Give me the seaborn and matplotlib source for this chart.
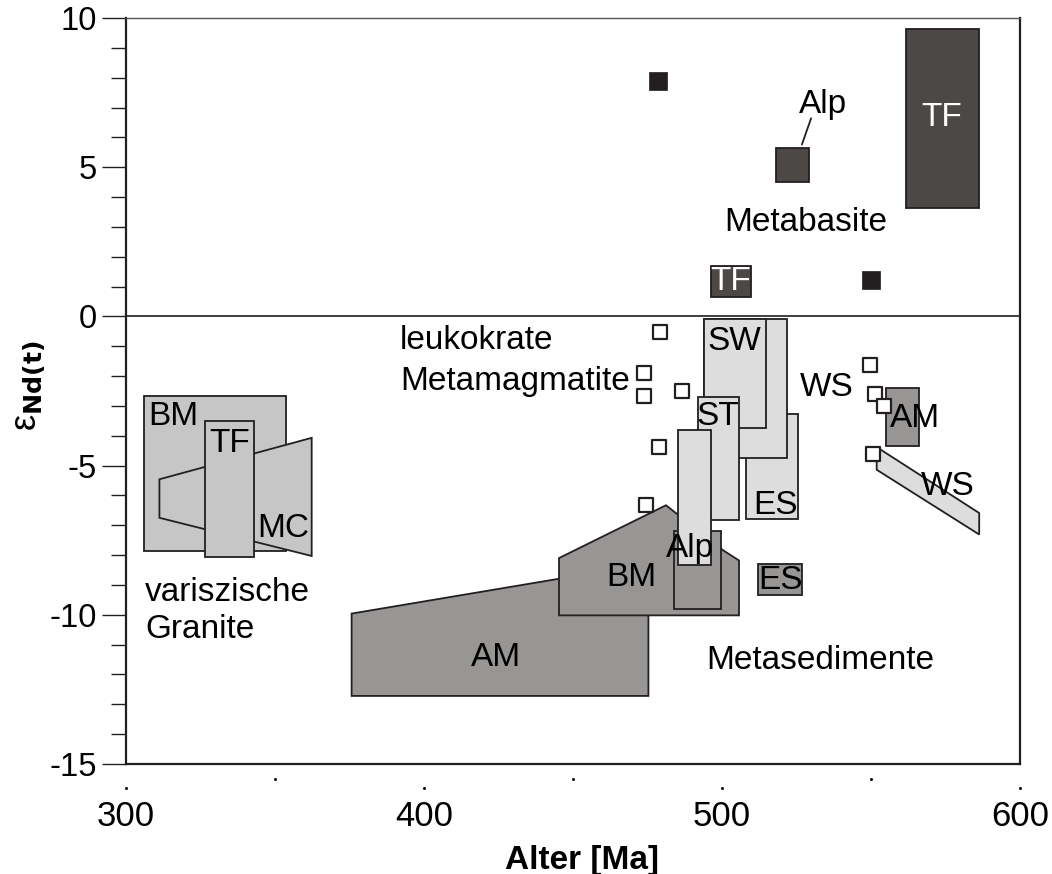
import numpy as np
import pandas as pd
import matplotlib
matplotlib.use("Agg")
import matplotlib.pyplot as plt
import matplotlib.transforms as mtrans
from matplotlib.patches import Polygon, Rectangle
from matplotlib.ticker import MultipleLocator
from matplotlib import font_manager
import seaborn as sns

# ---------------- data ----------------
# variscan granites (light-medium grey)
granite_bm = [306.0, 353.7, -7.87, -2.67]          # x0, x1, y0, y1
granite_mc = [(311.2, -5.46), (362.3, -4.07), (362.3, -8.03), (311.2, -6.75)]
granite_tf = [326.5, 343.0, -8.07, -3.51]

# metasediments (medium grey)
sed_am = [(375.7, -9.96), (475.3, -8.29), (475.3, -12.72), (375.7, -12.72)]
sed_bm = [(445.3, -8.10), (481.2, -6.33), (500.4, -7.84), (505.7, -8.18),
          (505.7, -10.02), (445.3, -10.02)]
sed_alp = [483.9, 499.8, -9.82, -7.20]
sed_es = [512.2, 526.9, -9.35, -8.29]
sed_am2 = [554.9, 566.2, -4.35, -2.39]

# leucocratic metamagmatites (light grey)
leu_es = [508.0, 525.4, -6.80, -3.26]
leu_ws = [494.1, 521.9, -4.76, -0.10]
leu_sw = [494.1, 514.7, -3.75, -0.10]
leu_st = [492.0, 505.7, -6.84, -2.69]
leu_alp = [485.1, 496.3, -8.32, -3.80]
leu_ws2 = [(551.9, -4.38), (586.3, -6.59), (586.3, -7.31), (551.9, -5.14)]

# metabasites (dark grey)
mb_tf = [561.7, 586.2, 3.62, 9.62]
mb_alp = [518.1, 529.2, 4.49, 5.63]
mb_tf2 = [496.3, 509.7, 0.64, 1.68]

# single points
open_age = [479.3, 473.9, 473.9, 486.5, 478.9, 474.4, 549.8, 551.4, 554.4, 550.8]
open_end = [-0.53, -1.90, -2.68, -2.50, -4.39, -6.33, -1.64, -2.61, -3.02, -4.60]
filled_age = [478.5, 550.0]
filled_end = [7.88, 1.21]

x_ticks = [300, 400, 500, 600]
x_dots_major = [300, 400, 500, 600]
x_dots_minor = [350, 450, 550]
y_ticks = [-15, -10, -5, 0, 5, 10]

# ---------------- style ----------------
sns.set_theme(style="white")
names = {f.name for f in font_manager.fontManager.ttflist}
base_font = "Liberation Sans" if "Liberation Sans" in names else "DejaVu Sans"
plt.rcParams["font.family"] = [base_font, "DejaVu Sans"]
plt.rcParams["axes.unicode_minus"] = False
plt.rcParams["text.color"] = "black"
plt.rcParams["axes.labelcolor"] = "black"
plt.rcParams["xtick.color"] = "black"
plt.rcParams["ytick.color"] = "black"

EDGE = "#231f20"
C_GRAN = "#c6c6c6"
C_SED = "#989694"
C_LEU = "#dddddd"
C_DARK = "#4b4846"
FS = 24

fig = plt.figure(figsize=(10.52, 8.74), dpi=100)
ax = fig.add_axes([0.1198, 0.1259, 0.8498, 0.8535])


def rect(r, fc, lw=1.3, z=2):
    x0, x1, y0, y1 = r
    ax.add_patch(Rectangle((x0, y0), x1 - x0, y1 - y0, facecolor=fc,
                           edgecolor=EDGE, linewidth=lw, zorder=z))


def poly(p, fc, lw=1.3, z=2):
    ax.add_patch(Polygon(p, closed=True, facecolor=fc, edgecolor=EDGE,
                         linewidth=lw, zorder=z))


# zero line
ax.axhline(0, color=EDGE, lw=1.2, zorder=1)

# granites
rect(granite_bm, C_GRAN)
poly(granite_mc, C_GRAN)
rect(granite_tf, C_GRAN)

# metasediments
poly(sed_am, C_SED)
poly(sed_bm, C_SED)
rect(sed_alp, C_SED)

# leucocratic
rect(leu_es, C_LEU)
rect(leu_ws, C_LEU)
rect(leu_sw, C_LEU)
rect(leu_st, C_LEU)
rect(leu_alp, C_LEU)

rect(sed_es, C_SED)
rect(sed_am2, C_SED)
poly(leu_ws2, C_LEU)

# metabasites
rect(mb_tf, C_DARK)
rect(mb_alp, C_DARK)
rect(mb_tf2, C_DARK)

# points
pts_open = pd.DataFrame({"age": open_age, "end": open_end})
pts_fill = pd.DataFrame({"age": filled_age, "end": filled_end})
sns.scatterplot(data=pts_open, x="age", y="end", marker="s", s=110,
                facecolor="white", edgecolor=EDGE, linewidth=1.6, zorder=5, ax=ax)
sns.scatterplot(data=pts_fill, x="age", y="end", marker="s", s=150,
                color=EDGE, edgecolor=EDGE, linewidth=0.5, zorder=5, ax=ax)

# labels
def lab(x, y, s, color="black", ha="center"):
    ax.text(x, y, s, fontsize=FS, color=color, ha=ha, va="center", zorder=6)

lab(315.8, -3.35, "BM")
lab(334.9, -4.26, "TF")
lab(352.7, -7.10, "MC")
lab(306.4, -9.25, "variszische", ha="left")
lab(306.4, -10.49, "Granite", ha="left")
lab(391.9, -0.80, "leukokrate", ha="left")
lab(391.9, -2.18, "Metamagmatite", ha="left")
lab(424.2, -11.43, "AM")
lab(469.5, -8.75, "BM")
lab(489.3, -7.77, "Alp")
lab(519.5, -8.85, "ES")
lab(532.9, -11.53, "Metasedimente")
lab(504.0, -0.84, "SW")
lab(535.2, -2.38, "WS")
lab(498.7, -3.35, "ST")
lab(518.1, -6.33, "ES")
lab(564.8, -3.42, "AM")
lab(575.8, -5.70, "WS")
lab(533.9, 7.10, "Alp")
lab(528.2, 3.15, "Metabasite")
lab(503.0, 1.17, "TF", color="white")
lab(573.8, 6.67, "TF", color="white")
ax.plot([529.9, 526.8], [6.64, 5.76], color=EDGE, lw=1.3, zorder=6)

# axes
ax.set_xlim(300, 600)
ax.set_ylim(-15, 10)
ax.set_xticks(x_ticks)
ax.set_xticklabels([str(v) for v in x_ticks], fontsize=25)
ax.set_yticks(y_ticks)
ax.set_yticklabels([str(v) for v in y_ticks], fontsize=23.5)
ax.yaxis.set_minor_locator(MultipleLocator(1))
ax.tick_params(axis="y", which="major", direction="out", length=17,
               width=1.0, color=EDGE, pad=4, left=True)
ax.tick_params(axis="y", which="minor", direction="out", length=10.5,
               width=1.0, color=EDGE, left=True)
ax.tick_params(axis="x", which="both", length=0, pad=26)

# tiny dots below the x axis (as in the original)
trans = mtrans.blended_transform_factory(ax.transData, ax.transAxes)
ax.plot(x_dots_major, [-0.0322] * len(x_dots_major), ls="none", marker="s",
        ms=1.0, color="black", transform=trans, clip_on=False)
ax.plot(x_dots_minor, [-0.0201] * len(x_dots_minor), ls="none", marker="s",
        ms=1.0, color="black", transform=trans, clip_on=False)

for side in ["left", "bottom", "right"]:
    ax.spines[side].set_color(EDGE)
    ax.spines[side].set_linewidth(1.6)
ax.spines["top"].set_color("#555555")
ax.spines["top"].set_linewidth(1.0)

ax.set_xlabel("Alter [Ma]", fontsize=FS, fontweight="bold")
ax.xaxis.set_label_coords(0.51, -0.1086)
ax.set_ylabel(r"$\mathregular{ε}_{\mathbf{Nd(t)}}$", fontsize=26)
ax.yaxis.set_label_coords(-0.088, 0.507)
ax.grid(False)

fig.savefig("out.png", dpi=100, facecolor="white")
